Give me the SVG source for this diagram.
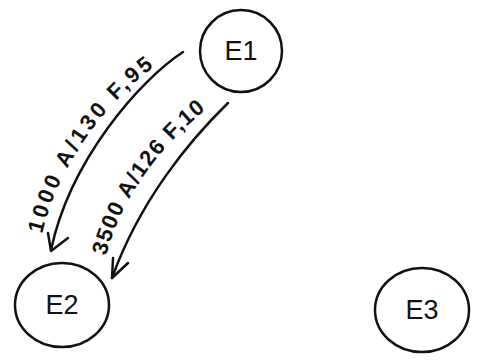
<svg xmlns="http://www.w3.org/2000/svg" xmlns:xlink="http://www.w3.org/1999/xlink" width="483" height="360" viewBox="0 0 483 360">
<style>
.node{fill:none;stroke:#111;stroke-width:2.5}
.nl{font-family:"Liberation Sans",Arial,sans-serif;font-size:27px;fill:#111;text-anchor:middle;dominant-baseline:central}
.edge{fill:none;stroke:#111;stroke-width:2.5;stroke-linecap:round;stroke-linejoin:round}
.el{font-family:"Liberation Sans",Arial,sans-serif;font-size:22px;font-weight:bold;fill:#111}
</style>
<defs>
<path id="tp1" d="M42,234 C57,170 102,100 172,54"/>
<path id="tp2" d="M106,256 C120,200 162,140 219,100"/>
</defs>
<rect width="483" height="360" fill="#fff"/>
<g id="E1"><ellipse class="node" cx="241" cy="51" rx="41" ry="41"/><text class="nl" x="241" y="51">E1</text></g>
<g id="E2"><ellipse class="node" cx="62" cy="305" rx="47" ry="42"/><text class="nl" x="62" y="305">E2</text></g>
<g id="E3"><ellipse class="node" cx="422" cy="310" rx="47" ry="42"/><text class="nl" x="422" y="310">E3</text></g>
<g id="connectors">
<path class="edge" d="M183,52 C140,80 70,160 51,250"/>
<path class="edge" d="M48,233 L51,251 L68,238"/>
<path class="edge" d="M228,103 C190,140 140,200 112,278"/>
<path class="edge" d="M113,258 L112,278 L128,263"/>
<text class="el"><textPath xlink:href="#tp1" textLength="205" lengthAdjust="spacing">1000 A/130 F,95</textPath></text>
<text class="el"><textPath xlink:href="#tp2" textLength="180" lengthAdjust="spacing">3500 A/126 F,10</textPath></text>
</g>
</svg>
